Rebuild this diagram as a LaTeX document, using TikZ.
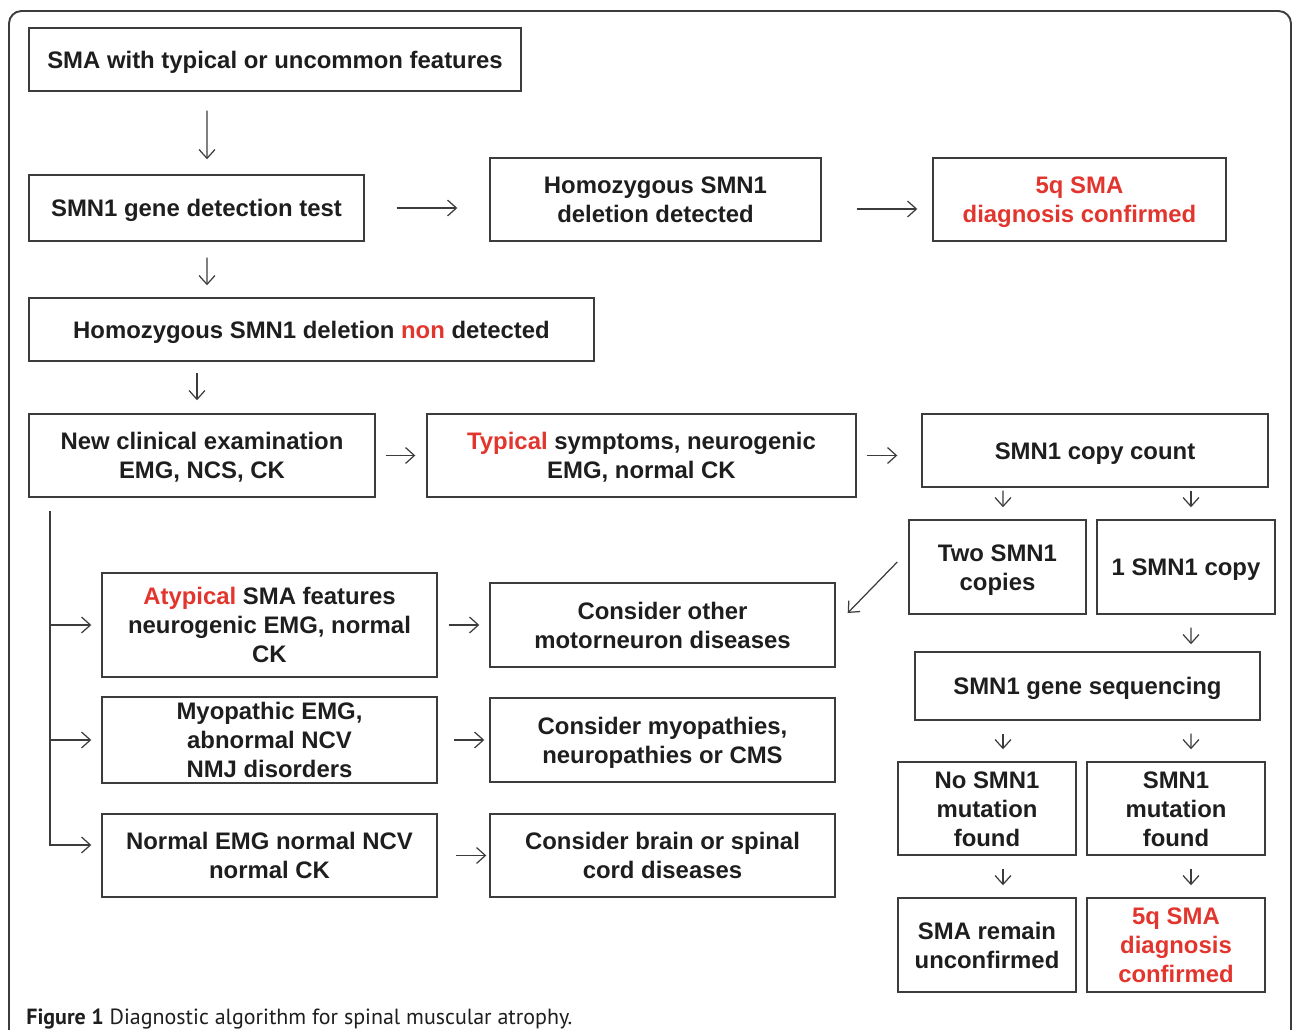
\documentclass[tikz,border=0pt]{standalone}
\usepackage{fontspec}
\setmainfont{Liberation Sans}
\newfontfamily\capfont{PT Sans}
\usetikzlibrary{arrows.meta}
\definecolor{smared}{HTML}{E2352D}
\definecolor{boxgray}{HTML}{3C3C3C}
\definecolor{inkgray}{HTML}{1E1E1E}
\tikzset{
  box/.style={draw=boxgray, line width=0.85pt, align=center, inner sep=0pt, text=inkgray,
    font=\fontsize{13.6}{16.5}\selectfont\bfseries,
    execute at end node={\rule[-3pt]{0pt}{0pt}}},
  flow/.style={->, draw=boxgray, line width=0.7pt},
}
\newcommand{\hl}[1]{\textcolor{smared}{#1}}
\newcommand{\st}{\rule{0pt}{13.2pt}}

\begin{document}
\begin{tikzpicture}[x=0.02cm, y=-0.02cm, >={Straight Barb[length=5pt,width=9pt]}]
		\useasboundingbox (0,0) rectangle (1292,1030);
		\clip (0,0) rectangle (1292,1030);
		% outer frame
		\draw[boxgray, line width=1.1pt, rounded corners=0.25cm] (9,1060) -- (9,11) -- (1291,11) -- (1291,1060);

		% upper part
		\node[box, minimum width=9.84cm, minimum height=1.26cm] (start) at (275,59.5) {\st SMA with typical or uncommon features};
		\node[box, minimum width=6.7cm, minimum height=1.32cm] (test) at (196.5,208) {\st SMN1 gene detection test};
		\node[box, minimum width=6.62cm, minimum height=1.66cm] (hom) at (655.5,199.5) {\st Homozygous SMN1\\deletion detected};
		\node[box, minimum width=5.86cm, minimum height=1.66cm, text=smared] (conf) at (1079.5,199.5) {\st 5q SMA\\diagnosis confirmed};
		\node[box, minimum width=11.3cm, minimum height=1.26cm] (nondet) at (311.5,329.5) {\st Homozygous SMN1 deletion \hl{non} detected};
		\node[box, minimum width=6.92cm, minimum height=1.66cm] (clin) at (202,455.5) {\st New clinical examination\\EMG, NCS, CK};
		\node[box, minimum width=8.58cm, minimum height=1.66cm] (typ) at (641.5,455.5) {\st\hl{Typical} symptoms, neurogenic\\EMG, normal CK};

		% right column
		\node[box, minimum width=6.92cm, minimum height=1.46cm] (count) at (1095,450.5) {\st SMN1 copy count};
		\node[box, minimum width=3.54cm, minimum height=1.88cm] (two) at (997.5,567) {\st Two SMN1\\copies};
		\node[box, minimum width=3.56cm, minimum height=1.88cm] (one) at (1186,567) {\st 1 SMN1 copy};
		\node[box, minimum width=6.9cm, minimum height=1.36cm] (seq) at (1087.5,686) {\st SMN1 gene sequencing};
		\node[box, minimum width=3.56cm, minimum height=1.86cm] (nomut) at (987,808.5) {\st No SMN1\\mutation\\found};
		\node[box, minimum width=3.56cm, minimum height=1.86cm] (mut) at (1176,808.5) {\st SMN1\\mutation\\found};
		\node[box, minimum width=3.56cm, minimum height=1.88cm] (unconf) at (987,945) {\st SMA remain\\unconfirmed};
		\node[box, minimum width=3.56cm, minimum height=1.88cm, text=smared] (conf2) at (1176,945) {\st 5q SMA\\diagnosis\\confirmed};

		% left branches
		\node[box, minimum width=6.7cm, minimum height=2.08cm] (atyp) at (269.5,625) {\st\hl{Atypical} SMA features\\neurogenic EMG, normal\\CK};
		\node[box, minimum width=6.7cm, minimum height=1.68cm] (myo) at (269.5,740) {\st Myopathic EMG,\\abnormal NCV\\NMJ disorders};
		\node[box, minimum width=6.7cm, minimum height=1.66cm] (normal) at (269.5,855.5) {\st Normal EMG normal NCV\\normal CK};
		\node[box, minimum width=6.9cm, minimum height=1.68cm] (motor) at (662.5,625) {\st Consider other\\motorneuron diseases};
		\node[box, minimum width=6.9cm, minimum height=1.68cm] (myopath) at (662.5,740) {\st Consider myopathies,\\neuropathies or CMS};
		\node[box, minimum width=6.9cm, minimum height=1.66cm] (brain) at (662.5,855.5) {\st Consider brain or spinal\\cord diseases};

		% arrows
		\draw[flow, shorten <=0.38cm, shorten >=0.3cm] ([shift={(-68,0)}]start.south) -- ([shift={(10.5,0)}]test.north);
		\draw[flow, shorten <=0.64cm, shorten >=0.64cm] (test.east) -- (test.east -| hom.west);
		\draw[flow, shorten <=0.7cm, shorten >=0.3cm] ([shift={(0,9.5)}]hom.east) -- ([shift={(0,9.5)}]conf.west);
		\draw[flow, shorten <=0.32cm, shorten >=0.24cm] ([shift={(10.5,0)}]test.south) -- ([shift={(-104.5,0)}]nondet.north);
		\draw[flow, shorten <=0.22cm, shorten >=0.26cm] ([shift={(-114.5,0)}]nondet.south) -- ([shift={(-5,0)}]clin.north);
		\draw[flow, shorten <=0.2cm, shorten >=0.22cm] (clin.east) -- (typ.west);
		\draw[flow, shorten <=0.2cm, shorten >=0.48cm] (typ.east) -- (typ.east -| count.west);
		\draw[flow, shorten <=0.06cm, shorten >=0.24cm] ([shift={(-92,0)}]count.south) -- ([shift={(5.5,0)}]two.north);
		\draw[flow, shorten <=0.06cm, shorten >=0.24cm] ([shift={(96,0)}]count.south) -- ([shift={(5,0)}]one.north);
		\draw[flow, shorten <=0.26cm, shorten >=0.14cm] ([shift={(5,0)}]one.south) -- ([shift={(103.5,0)}]seq.north);
		\draw[flow, shorten <=0.26cm, shorten >=0.24cm] ([shift={(-84.5,0)}]seq.south) -- ([shift={(16,0)}]nomut.north);
		\draw[flow, shorten <=0.26cm, shorten >=0.24cm] ([shift={(103.5,0)}]seq.south) -- ([shift={(15,0)}]mut.north);
		\draw[flow, shorten <=0.26cm, shorten >=0.24cm] ([shift={(16,0)}]nomut.south) -- ([shift={(16,0)}]unconf.north);
		\draw[flow, shorten <=0.26cm, shorten >=0.24cm] ([shift={(15,0)}]mut.south) -- ([shift={(15,0)}]conf2.north);
		\draw[flow] ([shift={(-11,-5)}]two.west) -- ([shift={(12,-12)}]motor.east);

		\coordinate (trunk) at ([shift={(-152,13)}]clin.south);
		\draw[flow, shorten >=0.2cm] (trunk) |- ([shift={(0,-10.5)}]normal.west);
		\draw[flow, shorten >=0.2cm] (trunk |- atyp.west) -- (atyp.west);
		\draw[flow, shorten >=0.2cm] (trunk |- myo.west) -- (myo.west);
		\draw[flow, shorten <=0.22cm, shorten >=0.2cm] (atyp.east) -- (motor.west);
		\draw[flow, shorten <=0.32cm, shorten >=0.1cm] (myo.east) -- (myopath.west);
		\draw[flow, shorten <=0.36cm, shorten >=0.06cm] (normal.east) -- (brain.west);

		% caption
		\node[anchor=base west, inner sep=0pt, text=inkgray, font=\capfont\fontsize{12.5}{15}\selectfont] (caption) at (26,1024) {\textbf{Figure 1} Diagnostic algorithm for spinal muscular atrophy.};
\end{tikzpicture}
\end{document}
